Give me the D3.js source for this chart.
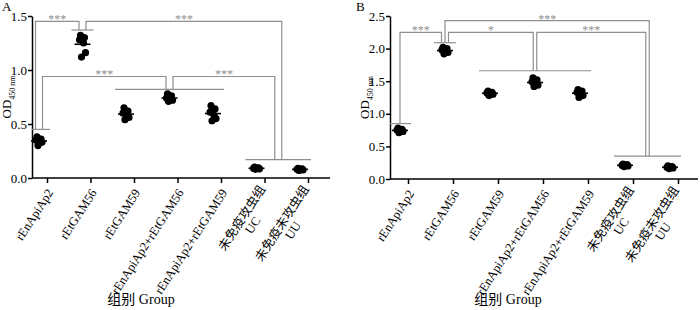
<!DOCTYPE html>
<html>
<head>
<meta charset="utf-8">
<script src="https://cdn.jsdelivr.net/npm/d3@7"></script>
<style>
  body { margin: 0; background: #fff; }
  svg text { font-family: "Liberation Serif", "Noto Sans CJK SC", serif; }
</style>
</head>
<body>
<div id="chart"></div>
<script>
// group labels (multi-line where needed)
const groupLabels = [
  ["rEnApiAp2"],
  ["rEtGAM56"],
  ["rEtGAM59"],
  ["rEnApiAp2+rEtGAM56"],
  ["rEnApiAp2+rEtGAM59"],
  ["未免疫攻虫组", "UC"],
  ["未免疫未攻虫组", "UU"]
];

// OD450 values per group, panel A
const valuesA = [
  [0.38, 0.36, 0.35, 0.34, 0.33, 0.30],
  [1.32, 1.30, 1.28, 1.25, 1.16, 1.12],
  [0.65, 0.62, 0.60, 0.58, 0.56, 0.54],
  [0.78, 0.76, 0.74, 0.73, 0.72, 0.71],
  [0.67, 0.64, 0.61, 0.58, 0.55, 0.53],
  [0.10, 0.095, 0.09, 0.09, 0.085, 0.08],
  [0.09, 0.085, 0.08, 0.08, 0.075, 0.07]
];

// panel B
const valuesB = [
  [0.78, 0.76, 0.75, 0.74, 0.73, 0.71],
  [2.02, 2.00, 1.98, 1.96, 1.94, 1.92],
  [1.35, 1.33, 1.32, 1.31, 1.30, 1.28],
  [1.55, 1.52, 1.49, 1.46, 1.44, 1.42],
  [1.37, 1.35, 1.33, 1.31, 1.28, 1.25],
  [0.23, 0.22, 0.21, 0.21, 0.20, 0.19],
  [0.20, 0.19, 0.18, 0.18, 0.17, 0.16]
];

const ticksA = [0, 0.5, 1.0, 1.5];
const ticksB = [0, 0.5, 1.0, 1.5, 2.0, 2.5];

// significance: group bars (first..last group, height) and comparisons between bars
const barsA = [
  { g: [0, 0], v: 0.45 },
  { g: [1, 1], v: 1.37 },
  { g: [2, 4], v: 0.82 },
  { g: [5, 6], v: 0.17 }
];
const compsA = [
  { a: 0, b: 1, v: 1.45, t: "***" },
  { a: 1, b: 3, v: 1.45, t: "***" },
  { a: 0, b: 2, v: 0.94, t: "***" },
  { a: 2, b: 3, v: 0.94, t: "***" }
];
const barsB = [
  { g: [0, 0], v: 0.85 },
  { g: [1, 1], v: 2.09 },
  { g: [2, 4], v: 1.66 },
  { g: [5, 6], v: 0.35 }
];
const compsB = [
  { a: 0, b: 1, v: 2.25, t: "***" },
  { a: 1, b: 3, v: 2.43, t: "***" },
  { a: 1, b: 2, v: 2.25, t: "*" },
  { a: 2, b: 3, v: 2.25, t: "***" }
];

const svg = d3.select("#chart").append("svg")
  .attr("width", 700)
  .attr("height", 310);

const jitter = [-2, 2, -3, 1, 3, -1];
const grey = "#8f8f8f";

function drawPanel(o) {
  const g = svg.append("g");

  const y = d3.scaleLinear().domain([0, o.yMax]).range([o.bottom, o.top]);
  const x = d3.scalePoint().domain(d3.range(groupLabels.length)).range([o.x0, o.x1]);
  const xt = d3.scalePoint().domain(d3.range(groupLabels.length)).range([o.x0 + 8, o.x1 + 8]);

  // axes
  const ya = g.append("g")
    .attr("transform", `translate(${o.left},0)`)
    .call(d3.axisLeft(y).tickValues(o.ticks).tickFormat(d3.format(".1f")).tickSize(4).tickSizeOuter(0));
  ya.select(".domain").attr("stroke-width", 1.5);
  ya.selectAll(".tick line").attr("stroke-width", 1.5);
  ya.selectAll("text").attr("font-size", 13).attr("font-family", "Liberation Serif").attr("x", -5);

  const xa = g.append("g")
    .attr("transform", `translate(0,${o.bottom})`)
    .call(d3.axisBottom(xt).tickSize(5).tickSizeOuter(0).tickFormat(""));
  xa.select(".domain").remove();
  xa.selectAll(".tick line").attr("stroke-width", 1.5);
  g.append("line")
    .attr("x1", o.left).attr("x2", o.right)
    .attr("y1", o.bottom).attr("y2", o.bottom)
    .attr("stroke", "#000").attr("stroke-width", 1.5);

  // x labels
  groupLabels.forEach((lines, i) => {
    const t = g.append("g")
      .attr("transform", `translate(${xt(i) + 3},${o.bottom + 12}) rotate(-57)`);
    const first = t.append("text")
      .attr("text-anchor", "end")
      .attr("font-size", 12.5)
      .attr("dy", ((0 - (lines.length - 1) / 2) * 13 + 4.5))
      .text(lines[0]);
    const len = first.node().getComputedTextLength();
    lines.slice(1).forEach((s, k) => {
      t.append("text")
        .attr("text-anchor", "middle")
        .attr("font-size", 12.5)
        .attr("x", -len / 2)
        .attr("dy", ((k + 1 - (lines.length - 1) / 2) * 13 + 4.5))
        .text(s);
    });
  });

  // points and means
  o.values.forEach((vals, i) => {
    g.append("g").selectAll("circle")
      .data(vals)
      .join("circle")
      .attr("cx", (d, k) => x(i) + jitter[k % jitter.length])
      .attr("cy", d => y(d))
      .attr("r", 3.6)
      .attr("fill", "#000");
    g.append("line")
      .attr("x1", x(i) - 8).attr("x2", x(i) + 8)
      .attr("y1", y(d3.mean(vals))).attr("y2", y(d3.mean(vals)))
      .attr("stroke", "#000").attr("stroke-width", 1.6);
  });

  // significance brackets
  const centers = o.bars.map(b => (x(b.g[0]) + x(b.g[1])) / 2);
  o.bars.forEach((b, i) => {
    g.append("line")
      .attr("x1", Math.max(o.left, x(b.g[0]) - 11)).attr("x2", x(b.g[1]) + 11)
      .attr("y1", y(b.v)).attr("y2", y(b.v))
      .attr("stroke", grey).attr("stroke-width", 1.2);
  });

  // order the attachment points on each bar so lines do not cross
  const att = o.bars.map(() => []);
  o.comps.forEach((c, ci) => {
    att[c.a].push({ ci, dir: 1, v: c.v });
    att[c.b].push({ ci, dir: -1, v: c.v });
  });
  const pos = {};
  att.forEach((list, bi) => {
    const left = list.filter(d => d.dir < 0).sort((p, q) => p.v - q.v);
    const right = list.filter(d => d.dir > 0).sort((p, q) => q.v - p.v);
    const all = left.concat(right);
    all.forEach((d, k) => {
      pos[d.ci + "_" + bi] = centers[bi] + (k - (all.length - 1) / 2) * o.gap;
    });
  });

  o.comps.forEach((c, ci) => {
    const xa1 = pos[ci + "_" + c.a], xb1 = pos[ci + "_" + c.b];
    g.append("path")
      .attr("d", `M${xa1},${y(o.bars[c.a].v)}V${y(c.v)}H${xb1}V${y(o.bars[c.b].v)}`)
      .attr("fill", "none").attr("stroke", grey).attr("stroke-width", 1.2);
    g.append("text")
      .attr("x", (xa1 + xb1) / 2)
      .attr("y", y(c.v) + 2)
      .attr("text-anchor", "middle")
      .attr("font-size", 12)
      .attr("fill", grey)
      .text(c.t);
  });

  // panel letter, y title, x title
  g.append("text").attr("x", o.letterX).attr("y", 11).attr("font-size", 13).text(o.letter);

  const yt = g.append("text")
    .attr("transform", `translate(${o.left - 21},${(o.top + o.bottom) / 2}) rotate(-90)`)
    .attr("text-anchor", "middle")
    .attr("font-size", 13);
  yt.append("tspan").text("OD");
  yt.append("tspan").attr("font-size", 8).attr("dy", 4).text("450 nm");

  g.append("text")
    .attr("x", o.titleX).attr("y", 304)
    .attr("text-anchor", "middle")
    .attr("font-size", 14)
    .text("组别 Group");
}

drawPanel({
  left: 32, right: 330, top: 16, bottom: 178, yMax: 1.5,
  x0: 39, x1: 300, ticks: ticksA, values: valuesA,
  bars: barsA, comps: compsA, gap: 7,
  letter: "A", letterX: 2, titleX: 141
});

drawPanel({
  left: 390, right: 698, top: 16, bottom: 179, yMax: 2.5,
  x0: 400, x1: 670, ticks: ticksB, values: valuesB,
  bars: barsB, comps: compsB, gap: 3.5,
  letter: "B", letterX: 356, titleX: 508
});
</script>
</body>
</html>
